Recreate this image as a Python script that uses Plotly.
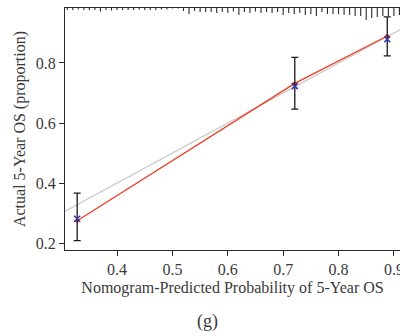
import plotly.graph_objects as go

# ---- data ----
pred_x = [0.328, 0.721, 0.888]          # nomogram-predicted probability (group means)
observed = [0.281, 0.723, 0.879]        # observed (blue x)
corrected = [0.274, 0.732, 0.890]       # bias-corrected (red)
ci_upper = [0.366, 0.819, 0.954]
ci_lower = [0.208, 0.646, 0.824]

rug_bins = [0.31, 0.32, 0.33, 0.34, 0.35, 0.36, 0.37, 0.38, 0.39, 0.40,
            0.41, 0.42, 0.43, 0.44, 0.45, 0.46, 0.47, 0.48, 0.49, 0.50,
            0.51, 0.52, 0.53, 0.54, 0.55, 0.56, 0.57, 0.58, 0.59, 0.60,
            0.61, 0.62, 0.63, 0.64, 0.65, 0.66, 0.67, 0.68, 0.69, 0.70,
            0.71, 0.72, 0.73, 0.74, 0.75, 0.76, 0.77, 0.78, 0.79, 0.80,
            0.81, 0.82, 0.83, 0.84, 0.85, 0.86, 0.87, 0.88, 0.89, 0.90, 0.91]
rug_counts = [2, 2, 1.5, 2, 2, 2, 3.5, 2, 2.5, 2,
              2, 2, 2, 1.5, 2, 2, 2, 1.5, 1.5, 0.5,
              0.5, 3, 6, 3, 4, 4, 4, 5, 4, 5,
              3.5, 7, 4, 5, 3.5, 5, 4, 5, 4, 7,
              5, 6, 5, 7, 6, 8, 4, 6, 6, 6,
              7, 7, 8, 8, 12, 10, 9, 8, 8, 8, 7]

x_ticks = [0.4, 0.5, 0.6, 0.7, 0.8, 0.9]
y_ticks = [0.2, 0.4, 0.6, 0.8]
x_range = [0.306, 0.911]
y_range = [0.1767, 0.9833]
rug_unit = 0.00333  # data units per count

FONT = "Liberation Serif"
TXT = "#3a3a3a"

fig = go.Figure()

# ideal line
fig.add_trace(go.Scatter(x=[0.25, 1.0], y=[0.25, 1.0], mode="lines",
                         line=dict(color="#cccccc", width=1.3), hoverinfo="skip"))

# rug histogram at top
rx, ry = [], []
for b, c in zip(rug_bins, rug_counts):
    rx += [b, b, None]
    ry += [y_range[1], y_range[1] - c * rug_unit, None]
fig.add_trace(go.Scatter(x=rx, y=ry, mode="lines",
                         line=dict(color="#2a2a2a", width=1.1), hoverinfo="skip"))

# bias-corrected line
fig.add_trace(go.Scatter(x=pred_x, y=corrected, mode="lines+markers",
                         line=dict(color="#ee3a22", width=1.3),
                         marker=dict(color="#ee3a22", size=4, symbol="circle")))

# observed with error bars
fig.add_trace(go.Scatter(
    x=pred_x, y=observed, mode="markers",
    marker=dict(symbol="x-thin", size=6, line=dict(color="#3838a8", width=1.6)),
    error_y=dict(type="data", symmetric=False,
                 array=[u - o for u, o in zip(ci_upper, observed)],
                 arrayminus=[o - l for o, l in zip(observed, ci_lower)],
                 color="#1a1a1a", thickness=1.3, width=3.5)))

fig.update_layout(
    width=400, height=336,
    margin=dict(l=65, r=0, t=8, b=86),
    paper_bgcolor="white", plot_bgcolor="white",
    showlegend=False,
    font=dict(family=FONT, color=TXT, size=16),
    xaxis=dict(range=x_range, tickvals=x_ticks, ticktext=[f"{v:.1f}" for v in x_ticks],
               showgrid=False, zeroline=False, showline=True, mirror=True,
               linecolor="#2a2a2a", linewidth=1.3,
               ticks="outside", ticklen=5, tickwidth=1.1, tickcolor="#2a2a2a",
               tickfont=dict(family=FONT, size=16, color=TXT),
               ticklabeloverflow="allow",
               title=dict(text="Nomogram-Predicted Probability of 5-Year OS",
                          font=dict(family=FONT, size=16, color=TXT), standoff=4),
               automargin=False),
    yaxis=dict(range=y_range, tickvals=y_ticks, ticktext=[f"{v:.1f}" for v in y_ticks],
               showgrid=False, zeroline=False, showline=True, mirror=False,
               linecolor="#2a2a2a", linewidth=1.3,
               ticks="outside", ticklen=5, tickwidth=1.1, tickcolor="#2a2a2a",
               tickfont=dict(family=FONT, size=16, color=TXT),
               title=dict(text="Actual 5-Year OS (proportion)",
                          font=dict(family=FONT, size=16, color=TXT), standoff=6),
               automargin=False),
    annotations=[dict(text="(g)", xref="paper", yref="paper", x=0.424, y=-0.2975,
                      xanchor="center", yanchor="middle", showarrow=False,
                      font=dict(family=FONT, size=18, color=TXT))],
)

fig.write_html("out.html")
